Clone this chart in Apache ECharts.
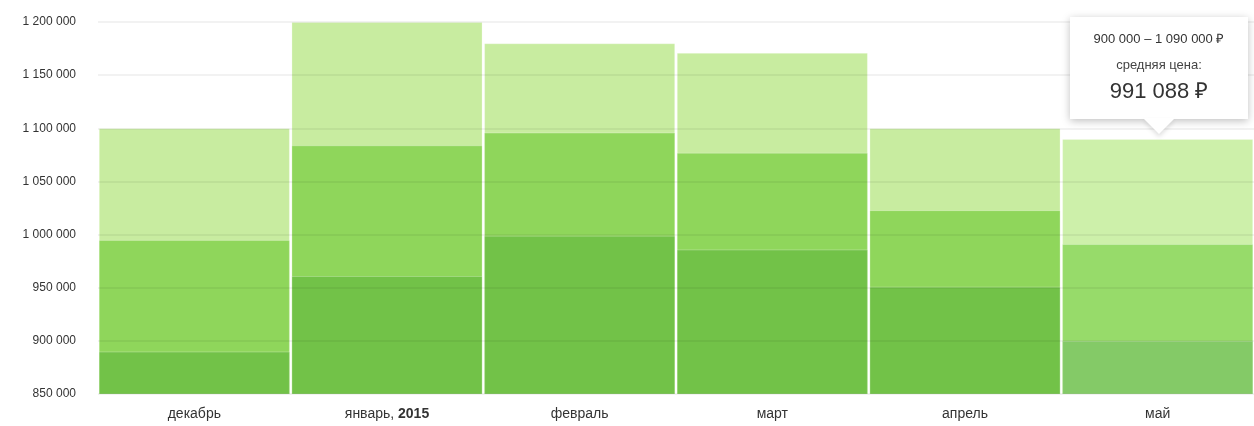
<!DOCTYPE html>
<html>
<head>
<meta charset="utf-8">
<script src="https://cdn.jsdelivr.net/npm/echarts@6/dist/echarts.min.js"></script>
<style>
    html, body { margin: 0; padding: 0; background: #fff; }
    #chart { width: 1254px; height: 426px; }
</style>
</head>
<body>
<div id="chart"></div>
<script>
// месяцы
var months = ['декабрь', 'январь, 2015', 'февраль', 'март', 'апрель', 'май'];
// максимальная цена
var maxPrice = [1100000, 1200000, 1180000, 1171000, 1100000, 1090000];
// средняя цена
var avgPrice = [995000, 1084000, 1096000, 1077000, 1023000, 991088];
// минимальная цена
var minPrice = [890000, 961000, 999000, 986000, 951000, 900000];

var activeIndex = 5; // месяц под курсором

// 1 090 000 -> "1 090 000"
let fmt = (v) => String(Math.round(v)).replace(/\B(?=(\d{3})+(?!\d))/g, ' ');

let chart = echarts.init(document.getElementById('chart'));

// цвета слоёв: обычный / под курсором
let colors = {
    max: ['#c8eca0', '#cdf0aa'],
    avg: ['#8fd65b', '#97db6a'],
    min: ['#72c248', '#84ca67']
};

let makeData = (arr, key) => arr.map((v, i) => ({
    value: v,
    itemStyle: { color: colors[key][i == activeIndex ? 1 : 0] }
}));

let barBase = {
    type: 'bar',
    barGap: '-100%',
    barCategoryGap: '0.8%',
    animation: false,
    emphasis: { disabled: true },
    itemStyle: { borderColor: 'rgba(255,255,255,0.25)', borderWidth: 1 }
};

let option = {
    animation: false,
    grid: { left: 98, right: -1, top: 22, bottom: 32 },
    tooltip: {
        trigger: 'item',
        padding: 0,
        borderWidth: 0,
        backgroundColor: '#fff',
        transitionDuration: 0,
        alwaysShowContent: true,
        extraCssText: 'box-shadow: 0 2px 8px rgba(0,0,0,0.25); border-radius: 0;',
        position: (point, params, dom, rect, size) => {
            let i = params.dataIndex;
            let cx = chart.convertToPixel({ xAxisIndex: 0 }, i);
            let top = chart.convertToPixel({ yAxisIndex: 0 }, maxPrice[i]);
            return [cx - size.contentSize[0] / 2 + 1, top - size.contentSize[1] - 20];
        },
        formatter: (params) => {
            let i = params.dataIndex;
            return '<div style="position:relative;width:178px;height:102px;text-align:center;' +
                'font-family:Arial,\'Liberation Sans\',sans-serif;color:#333;">' +
                '<div style="padding-top:13px;font-size:13px;line-height:18px;">' +
                fmt(minPrice[i]) + ' – ' + fmt(maxPrice[i]) + ' ₽</div>' +
                '<div style="padding-top:8px;font-size:13px;line-height:18px;color:#444;">средняя цена:</div>' +
                '<div style="padding-top:4px;font-size:22px;line-height:26px;">' + fmt(avgPrice[i]) + ' ₽</div>' +
                '<div style="position:absolute;left:73px;bottom:-15px;width:0;height:0;' +
                'border-left:16px solid transparent;border-right:16px solid transparent;' +
                'border-top:16px solid #fff;filter:drop-shadow(0 3px 2px rgba(0,0,0,0.12));"></div>' +
                '</div>';
        }
    },
    xAxis: {
        type: 'category',
        data: months,
        axisLine: { show: false },
        axisTick: { show: false },
        axisLabel: {
            margin: 13,
            fontSize: 14,
            color: '#333',
            fontFamily: 'Arial, Liberation Sans, sans-serif',
            formatter: (v) => {
                let p = v.split(', ');
                return p.length > 1 ? p[0] + ', {b|' + p[1] + '}' : v;
            },
            rich: {
                b: { fontWeight: 'bold', fontSize: 14, color: '#333', fontFamily: 'Arial, Liberation Sans, sans-serif' }
            }
        }
    },
    yAxis: {
        type: 'value',
        min: 850000,
        max: 1200000,
        interval: 50000,
        z: 10,
        axisLine: { show: false },
        axisTick: { show: false },
        splitLine: { lineStyle: { color: 'rgba(0,0,0,0.05)', width: 2 } },
        axisLabel: {
            margin: 22,
            fontSize: 12,
            color: '#333',
            fontFamily: 'Arial, Liberation Sans, sans-serif',
            formatter: (v) => fmt(v)
        }
    },
    series: [
        Object.assign({}, barBase, { name: 'max', data: makeData(maxPrice, 'max'), z: 2 }),
        Object.assign({}, barBase, { name: 'avg', data: makeData(avgPrice, 'avg'), z: 3 }),
        Object.assign({}, barBase, { name: 'min', data: makeData(minPrice, 'min'), z: 4 })
    ]
};

chart.setOption(option);
chart.dispatchAction({ type: 'showTip', seriesIndex: 1, dataIndex: activeIndex });
</script>
</body>
</html>
